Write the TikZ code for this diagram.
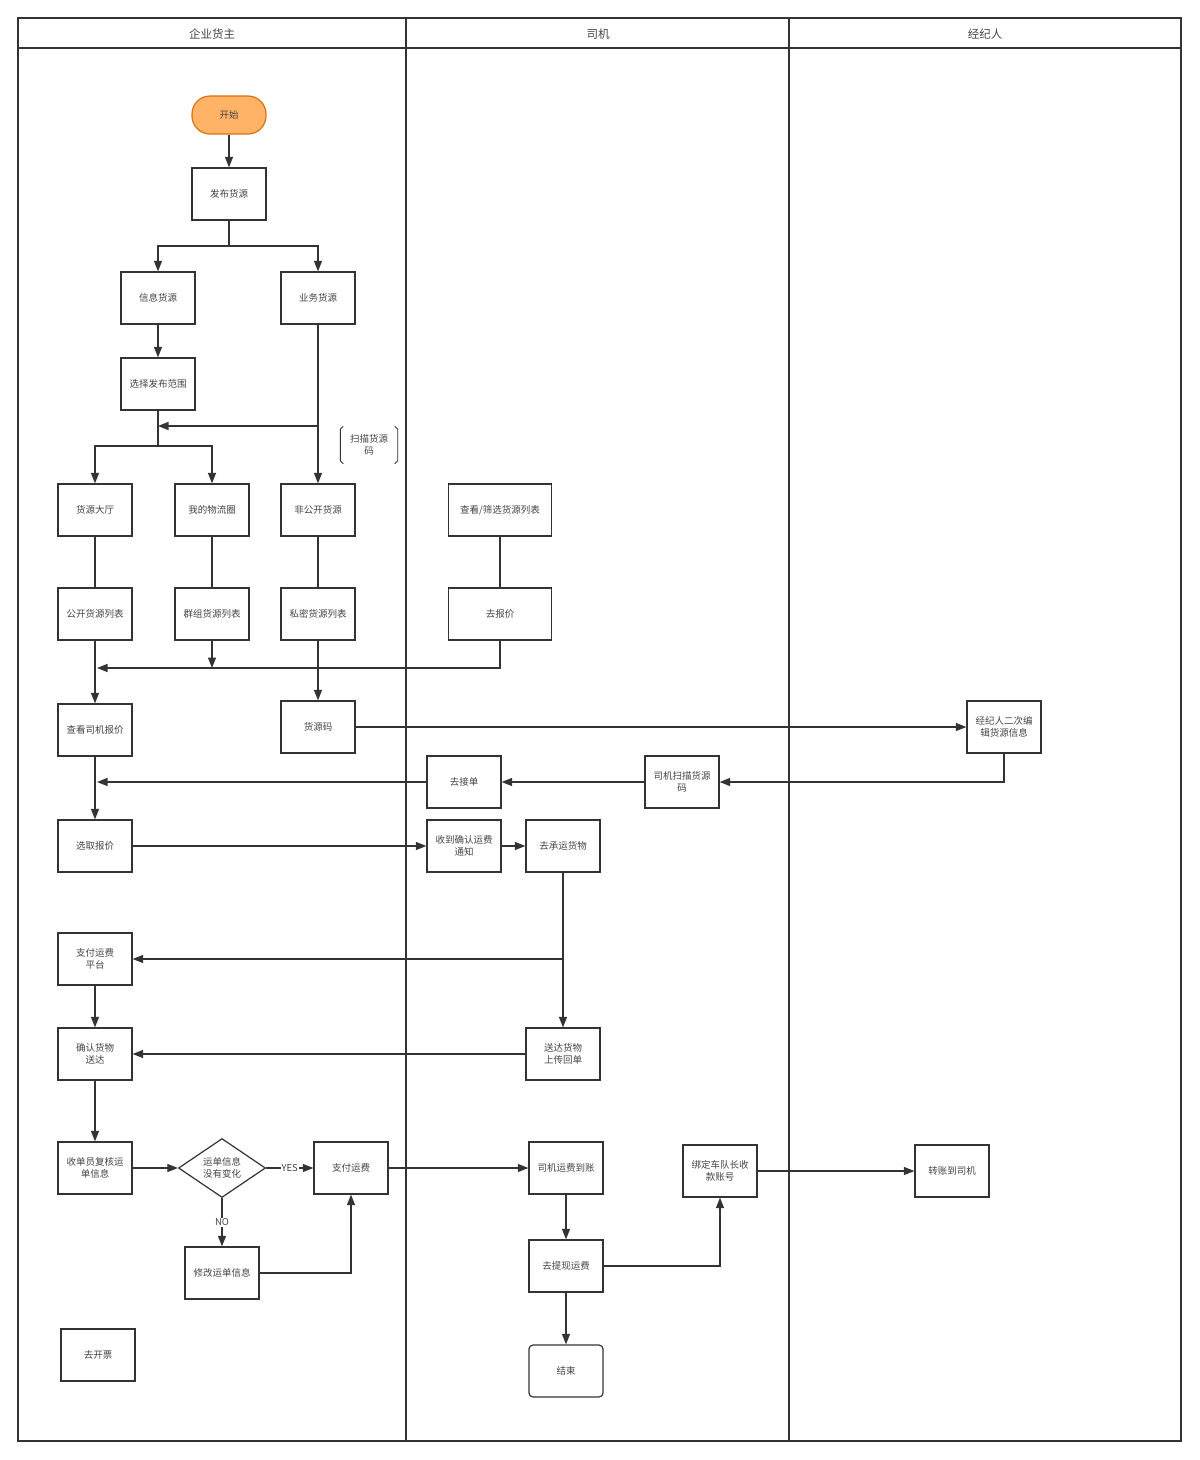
\documentclass[tikz,border=0pt]{standalone}
\usepackage{fontspec}
\setmainfont{Noto Sans CJK SC}
\usepackage{xcolor}
\usetikzlibrary{positioning, shapes.geometric, arrows.meta, calc}

\definecolor{linegray}{HTML}{333333}
\definecolor{textgray}{HTML}{444444}
\definecolor{startfill}{HTML}{FFB366}
\definecolor{startdraw}{HTML}{D9720F}

\begin{document}
\begin{tikzpicture}[
  x=1pt, y=-1pt,
  font=\fontsize{9.5}{12}\selectfont,
  box/.style={rectangle, draw=linegray, line width=1.2pt, fill=white, text=textgray,
              align=center, minimum width=74pt, minimum height=52pt, inner sep=2pt},
  widebox/.style={box, minimum width=103pt},
  startbox/.style={box, rounded corners=18pt, fill=startfill, draw=startdraw, minimum height=38pt},
  endbox/.style={box, rounded corners=4pt},
  decision/.style={diamond, draw=linegray, line width=1.2pt, fill=white, text=textgray,
                   align=center, minimum width=87pt, minimum height=59pt, aspect=1.47, inner sep=0pt},
  lane/.style={draw=linegray, line width=1.4pt},
  head/.style={font=\fontsize{11.5}{13}\selectfont, text=textgray},
  note/.style={align=center, text=textgray, minimum width=57pt, minimum height=37pt},
  flag/.style={fill=white, text=textgray, inner sep=1pt},
  line/.style={draw=linegray, line width=1.2pt},
  arrow/.style={line, -{Triangle[length=10.5pt, width=8pt]}}
]
\useasboundingbox (0,0) rectangle (1200,1460);

% Swimlanes
\draw[lane] (18,18) rectangle (1181,1441);
\draw[lane] (18,48) -- (1181,48);
\draw[lane] (406,18) -- (406,1441);
\draw[lane] (789,18) -- (789,1441);
\node[head] (laneowner) at (212,34) {企业货主};
\node[head] (lanedriver) at (598,34) {司机};
\node[head] (laneagent) at (985,34) {经纪人};

% Owner lane
\node[startbox] (start) at (229,115) {开始};
\node[box] (publish) at (229,194) {发布货源};
\node[box] (info) at (158,298) {信息货源};
\node[box] (biz) at (318,298) {业务货源};
\node[box] (range) at (158,384) {选择发布范围};
\node[note] (scannote) at (369,445) {扫描货源\\码};
\node[box] (hall) at (95,510) {货源大厅};
\node[box] (circ) at (212,510) {我的物流圈};
\node[box] (nonpub) at (318,510) {非公开货源};
\node[box] (publist) at (95,614) {公开货源列表};
\node[box] (grouplist) at (212,614) {群组货源列表};
\node[box] (privlist) at (318,614) {私密货源列表};
\node[box] (viewquote) at (95,730) {查看司机报价};
\node[box] (code) at (318,727) {货源码};
\node[box] (pick) at (95,846) {选取报价};
\node[box] (payplat) at (95,959) {支付运费\\平台};
\node[box] (confirm) at (95,1054) {确认货物\\送达};
\node[box] (review) at (95,1168) {收单员复核运\\单信息};
\node[decision] (check) at (222,1168) {运单信息\\没有变化};
\node[box] (pay) at (351,1168) {支付运费};
\node[box] (modify) at (222,1273) {修改运单信息};
\node[box] (invoice) at (98,1355) {去开票};

% Driver lane
\node[widebox] (browse) at (500,510) {查看/筛选货源列表};
\node[widebox] (quote) at (500,614) {去报价};
\node[box] (take) at (464,782) {去接单};
\node[box] (scan) at (682,782) {司机扫描货源\\码};
\node[box] (notice) at (464,846) {收到确认运费\\通知};
\node[box] (carry) at (563,846) {去承运货物};
\node[box] (deliver) at (563,1054) {送达货物\\上传回单};
\node[box] (arrive) at (566,1168) {司机运费到账};
\node[box] (withdraw) at (566,1266) {去提现运费};
\node[endbox] (finish) at (566,1371) {结束};
\node[box] (bind) at (720,1171) {绑定车队长收\\款账号};

% Agent lane
\node[box] (agentedit) at (1004,727) {经纪人二次编\\辑货源信息};
\node[box] (transfer) at (952,1171) {转账到司机};

% Bracket round the scan note
\draw[line, line width=0.9pt] ($(scannote.north west)+(3,0)$) -- ++(-3,3)
  -- ($(scannote.south west)+(0,-3)$) -- ++(3,3);
\draw[line, line width=0.9pt] ($(scannote.north east)+(-3,0)$) -- ++(3,3)
  -- ($(scannote.south east)+(0,-3)$) -- ++(-3,3);

% Junction points
\coordinate (split1) at (229,246);
\coordinate (merge1) at (158,426);
\coordinate (split2) at (158,446);
\coordinate (merge2) at (97,668);
\coordinate (merge3) at (97,782);

% Publishing
\draw[arrow] (start) -- (publish);
\draw[line] (publish) -- (split1);
\draw[arrow] (split1) -| (info);
\draw[arrow] (split1) -| (biz);
\draw[arrow] (info) -- (range);
\draw[arrow] (biz) -- (nonpub);
\draw[arrow] (biz.south |- merge1) -- (merge1);
\draw[line] (range) -- (split2);
\draw[arrow] (split2) -| (hall);
\draw[arrow] (split2) -| (circ);

% Lists and quotes
\draw[line] (hall) -- (publist);
\draw[line] (circ) -- (grouplist);
\draw[line] (nonpub) -- (privlist);
\draw[line] (browse) -- (quote);
\draw[arrow] (quote.south) |- (merge2);
\draw[arrow] (grouplist.south) -- (grouplist.south |- merge2);
\draw[arrow] (publist) -- (viewquote);
\draw[arrow] (privlist) -- (code);

% Source code via agent
\draw[arrow] (code) -- (agentedit);
\draw[arrow] (agentedit.south) |- (scan);
\draw[arrow] (scan) -- (take);
\draw[arrow] (take) -- (merge3);
\draw[arrow] (viewquote) -- (pick);

% Shipping
\draw[arrow] (pick) -- (notice);
\draw[arrow] (notice) -- (carry);
\draw[arrow] (carry) -- (deliver);
\draw[arrow] (carry.south |- payplat) -- (payplat);
\draw[arrow] (payplat) -- (confirm);
\draw[arrow] (deliver) -- (confirm);
\draw[arrow] (confirm) -- (review);

% Checking and payment
\draw[arrow] (review) -- (check);
\draw[arrow] (check) -- node[flag] {YES} (pay);
\draw[arrow] (check) -- node[flag] {NO} (modify);
\draw[arrow] (modify) -| (pay);
\draw[arrow] (pay) -- (arrive);
\draw[arrow] (arrive) -- (withdraw);
\draw[arrow] (withdraw) -| (bind);
\draw[arrow] (withdraw) -- (finish);
\draw[arrow] (bind) -- (transfer);

\end{tikzpicture}
\end{document}
